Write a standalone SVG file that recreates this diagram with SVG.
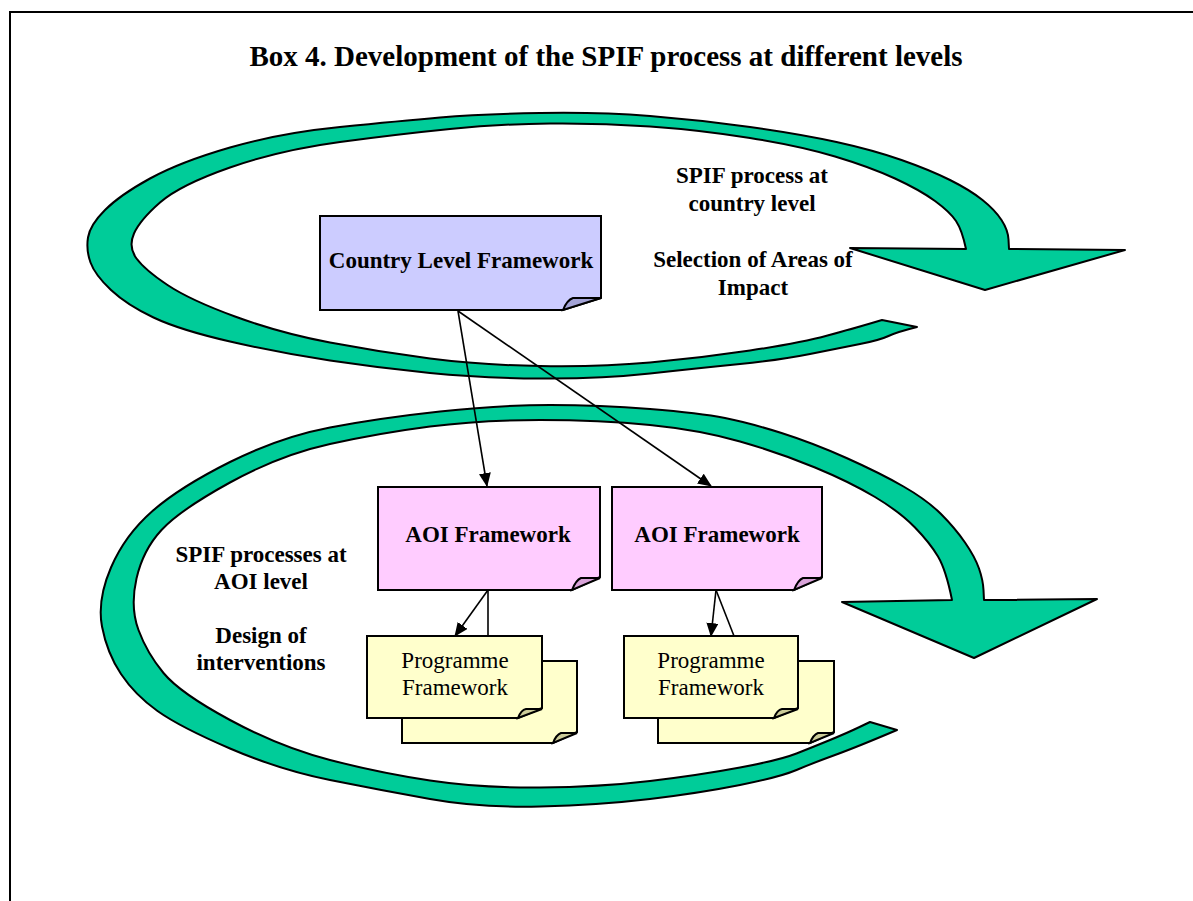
<svg xmlns="http://www.w3.org/2000/svg" width="1193" height="901" viewBox="0 0 1193 901">
<style>
.ring{fill:#00CC99;stroke:#000;stroke-width:2;stroke-linejoin:round}
.box{stroke:#000;stroke-width:2;stroke-linejoin:miter}
.t{font-family:"Liberation Serif","Times New Roman",serif;fill:#000;text-anchor:middle}
.b{font-weight:bold}
.con{stroke:#000;stroke-width:1.6;fill:none}
</style>
<defs>
<marker id="ah" markerWidth="14" markerHeight="12" refX="13" refY="6" orient="auto" markerUnits="userSpaceOnUse">
<path d="M0,0 L14,6 L0,12 Z" fill="#000"/>
</marker>
</defs>
<rect width="1193" height="901" fill="#fff"/>
<path d="M10,901 V12 H1193" fill="none" stroke="#000" stroke-width="2"/>
<text class="t b" x="606" y="66" font-size="29">Box 4. Development of the SPIF process at different levels</text>

<g id="ring-top">
<path class="ring" d="M882,320 L868.5,324 Q855,328 827.5,335.5 Q800,343 750,350.5 Q700,358 650,362.5 Q600,367 540,366 Q480,365 430,358.5 Q380,352 330,342.5 Q280,333 235,316.5 Q190,300 167.5,285 Q145,270 136.5,258.5 Q128,247 134,233.5 Q140,220 160,202.5 Q180,185 230,167.5 Q280,150 340,142 Q400,134 450,129 Q500,124 550,123.5 Q600,123 650,126.5 Q700,130 750,138 Q800,146 835,156.5 Q870,167 895,178.5 Q920,190 935,201 Q950,212 956,221 Q962,230 966,249 L850,248 L985,290 L1125,250 L1009,249 L1008.5,239.5 Q1008,230 1001.5,220 Q995,210 982.5,200 Q970,190 950,180 Q930,170 901.5,160 Q873,150 836.5,142 Q800,134 750,127 Q700,120 650,116 Q600,112 540,113 Q480,114 440,117.5 Q400,121 340,127 Q280,133 230,147.5 Q180,162 150,178.5 Q120,195 105,210 Q90,225 88,237.5 Q86,250 90.5,262.5 Q95,275 111,290 Q127,305 153.5,317.5 Q180,330 230,341.5 Q280,353 330,360.5 Q380,368 430,373 Q480,378 540,378.5 Q600,379 650,373.5 Q700,368 740,364 Q780,360 810,354 Q840,348 860,344 Q880,340 888.5,336 Q897,332 917,327 Z"/>
</g>
<g id="ring-bottom">
<path class="ring" d="M897,730 L870,722 L858.5,727.5 Q847,733 830,740 Q813,747 796.5,753.5 Q780,760 740,767.5 Q700,775 650,781 Q600,787 540,787.5 Q480,788 430,780.5 Q380,773 330,760 Q280,747 230,720 Q180,693 163.5,673 Q147,653 138.5,630 Q130,607 136.5,578.5 Q143,550 161.5,530 Q180,510 230,482.5 Q280,455 330,444 Q380,433 430,426.5 Q480,420 540,420 Q600,420 650,425 Q700,430 740,441.5 Q780,453 815,467.5 Q850,482 875,497 Q900,512 915,527.5 Q930,543 938,556.5 Q946,570 952,600 L842,602 L974,658 L1097,599 L984,600 L983.5,590 Q983,580 979,568.5 Q975,557 965,542.5 Q955,528 941,514 Q927,500 903.5,486.5 Q880,473 846.5,458 Q813,443 781.5,433 Q750,423 725,418 Q700,413 650,409 Q600,405 550,405 Q500,405 440,411.5 Q380,418 330,427.5 Q280,437 230,462 Q180,487 152.5,511 Q125,535 111,567.5 Q97,600 102,626.5 Q107,653 121,674 Q135,695 157.5,711 Q180,727 230,748.5 Q280,770 330,780 Q380,790 430,799 Q480,808 540,806.5 Q600,805 650,799 Q700,793 740,785 Q780,777 796.5,770 Q813,763 835,755 Q857,747 897,730 Z"/>
</g>

<text class="t b" x="752" y="183" font-size="23">SPIF process at</text>
<text class="t b" x="752" y="211" font-size="23">country level</text>
<text class="t b" x="753" y="267" font-size="23">Selection of Areas of</text>
<text class="t b" x="753" y="295" font-size="23">Impact</text>
<text class="t b" x="261" y="562" font-size="23">SPIF processes at</text>
<text class="t b" x="261" y="589" font-size="23">AOI level</text>
<text class="t b" x="261" y="643" font-size="23">Design of</text>
<text class="t b" x="261" y="670" font-size="23">interventions</text>

<g id="country">
<path class="box" fill="#CCCCFF" d="M320,216 H601 V298 L563,310 H320 Z"/>
<path class="box" fill="#A3A3D6" stroke-width="1.5" d="M563,310 Q567,300 573,298 H601 Z"/>
<text class="t b" x="461" y="268" font-size="23">Country Level Framework</text>
</g>
<g id="aoi1">
<path class="box" fill="#FFCCFF" d="M378,487 H600 V577 L572,590 H378 Z"/>
<path class="box" fill="#D9A3D9" stroke-width="1.5" d="M572,590 Q576,580 581,578 H600 Z"/>
<text class="t b" x="488" y="542" font-size="23">AOI Framework</text>
</g>
<g id="aoi2">
<path class="box" fill="#FFCCFF" d="M612,487 H822 V577 L794,590 H612 Z"/>
<path class="box" fill="#D9A3D9" stroke-width="1.5" d="M794,590 Q798,580 803,578 H822 Z"/>
<text class="t b" x="717" y="542" font-size="23">AOI Framework</text>
</g>
<g id="prog1">
<path class="box" fill="#FFFFCC" d="M402,661 H577 V732 L553,743 H402 Z"/>
<path class="box" fill="#CCCC99" stroke-width="1.5" d="M553,743 Q556,735 561,733 H577 Z"/>
<path class="box" fill="#FFFFCC" d="M367,636 H542 V708 L518,718 H367 Z"/>
<path class="box" fill="#CCCC99" stroke-width="1.5" d="M518,718 Q521,710 526,709 H542 Z"/>
<text class="t" x="455" y="668" font-size="23">Programme</text>
<text class="t" x="455" y="695" font-size="23">Framework</text>
</g>
<g id="prog2">
<path class="box" fill="#FFFFCC" d="M658,661 H834 V732 L810,743 H658 Z"/>
<path class="box" fill="#CCCC99" stroke-width="1.5" d="M810,743 Q813,735 818,733 H834 Z"/>
<path class="box" fill="#FFFFCC" d="M624,636 H798 V708 L774,718 H624 Z"/>
<path class="box" fill="#CCCC99" stroke-width="1.5" d="M774,718 Q777,710 782,709 H798 Z"/>
<text class="t" x="711" y="668" font-size="23">Programme</text>
<text class="t" x="711" y="695" font-size="23">Framework</text>
</g>

<g id="connectors">
<line class="con" x1="458" y1="311" x2="487" y2="486" marker-end="url(#ah)"/>
<line class="con" x1="458" y1="311" x2="711" y2="486" marker-end="url(#ah)"/>
<line class="con" x1="488" y1="590" x2="455" y2="636" marker-end="url(#ah)"/>
<line class="con" x1="488" y1="590" x2="488" y2="636"/>
<line class="con" x1="716" y1="590" x2="711" y2="636" marker-end="url(#ah)"/>
<line class="con" x1="716" y1="590" x2="734" y2="636"/>
</g>
</svg>
